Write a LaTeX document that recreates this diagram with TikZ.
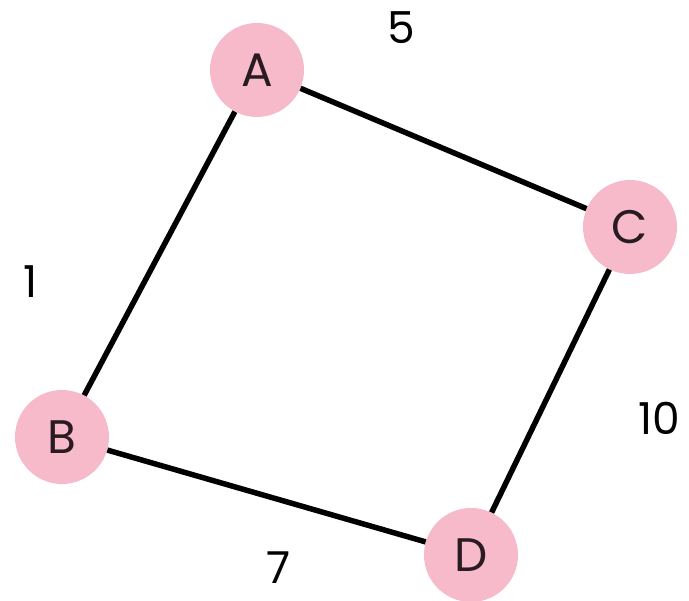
\documentclass[tikz,border=0pt]{standalone}
\usepackage{fontspec}
\setmainfont{Poppins}
\definecolor{nodepink}{HTML}{F6BACB}
\definecolor{txt}{HTML}{2A1A22}
\begin{document}
\begin{tikzpicture}[x=1pt,y=1pt,
  vertex/.style={circle,fill=nodepink,minimum size=94pt,inner sep=0pt,text=txt,font=\fontsize{47}{54}\selectfont},
  edge/.style={line width=5.5pt,black},
  wlabel/.style={text=black,inner sep=0pt,font=\fontsize{44}{50}\selectfont}]
\useasboundingbox (0,0) rectangle (689,601);
\node[vertex] (A) at (257,531) {A};
\node[vertex] (B) at (62,164) {B};
\node[vertex] (C) at (630,374) {C};
\node[vertex] (D) at (471,46) {D};
\draw[edge] (A) -- (C);
\draw[edge] (A) -- (B);
\draw[edge] (B) -- (D);
\draw[edge] (C) -- (D);
\node[wlabel,anchor=base] (w5) at (401,557) {5};
\node[wlabel,anchor=base] (w1) at (31,303) {1};
\node[wlabel,anchor=base west] (w10) at (638,166) {10};
\node[wlabel,anchor=base] (w7) at (279,17) {7};
\end{tikzpicture}
\end{document}
